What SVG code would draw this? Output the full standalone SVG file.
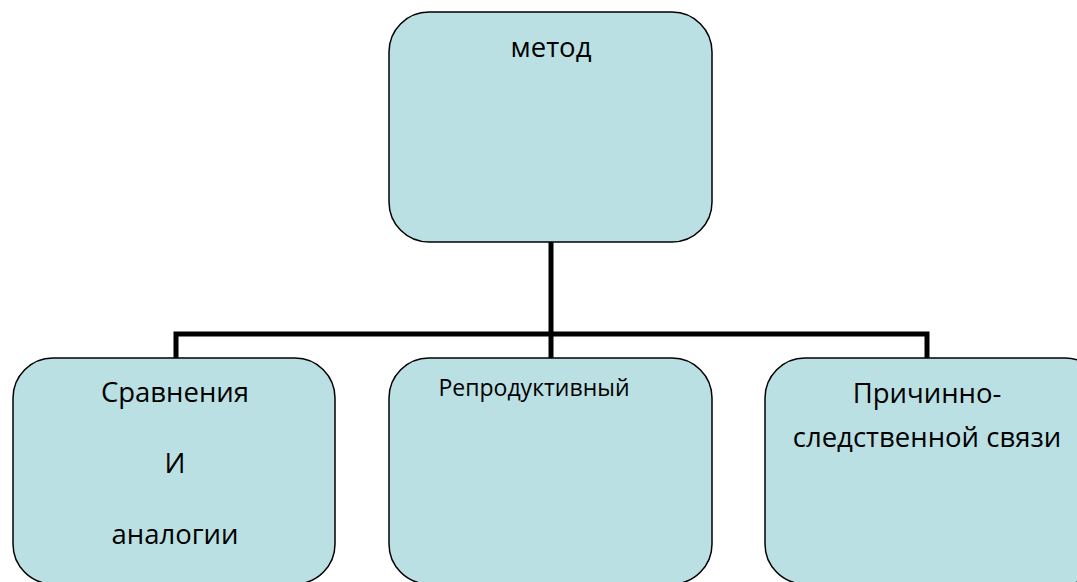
<svg xmlns="http://www.w3.org/2000/svg" width="1077" height="582" viewBox="0 0 1077 582">
<style>
.box{fill:#BBE0E3;stroke:#000;stroke-width:1.5}
.t{font-family:"Open Sans","Noto Sans",sans-serif;font-size:27.5px;fill:#000;text-anchor:middle}
.s{font-size:23px}
.c{fill:none;stroke:#000;stroke-width:5}
</style>
<rect width="1077" height="582" fill="#fff"/>
<g id="connectors">
<path class="c" d="M551,242 V358"/>
<path class="c" d="M176,358 V334 H927 V358"/>
</g>
<g id="n-metod">
<rect class="box" x="389" y="12" width="323" height="230" rx="40" ry="40"/>
<text class="t" x="551" y="57">метод</text>
</g>
<g id="n-sravnenia">
<rect class="box" x="13" y="358" width="322" height="226" rx="40" ry="40"/>
<text class="t" x="175" y="402">Сравнения</text>
<text class="t" x="175" y="473">И</text>
<text class="t" x="175" y="544">аналогии</text>
</g>
<g id="n-reprod">
<rect class="box" x="389" y="358" width="323" height="226" rx="40" ry="40"/>
<text class="t s" x="534" y="396">Репродуктивный</text>
</g>
<g id="n-prichin">
<rect class="box" x="765" y="358" width="340" height="226" rx="40" ry="40"/>
<text class="t" x="927" y="403">Причинно-</text>
<text class="t" x="927" y="447">следственной связи</text>
</g>
</svg>
